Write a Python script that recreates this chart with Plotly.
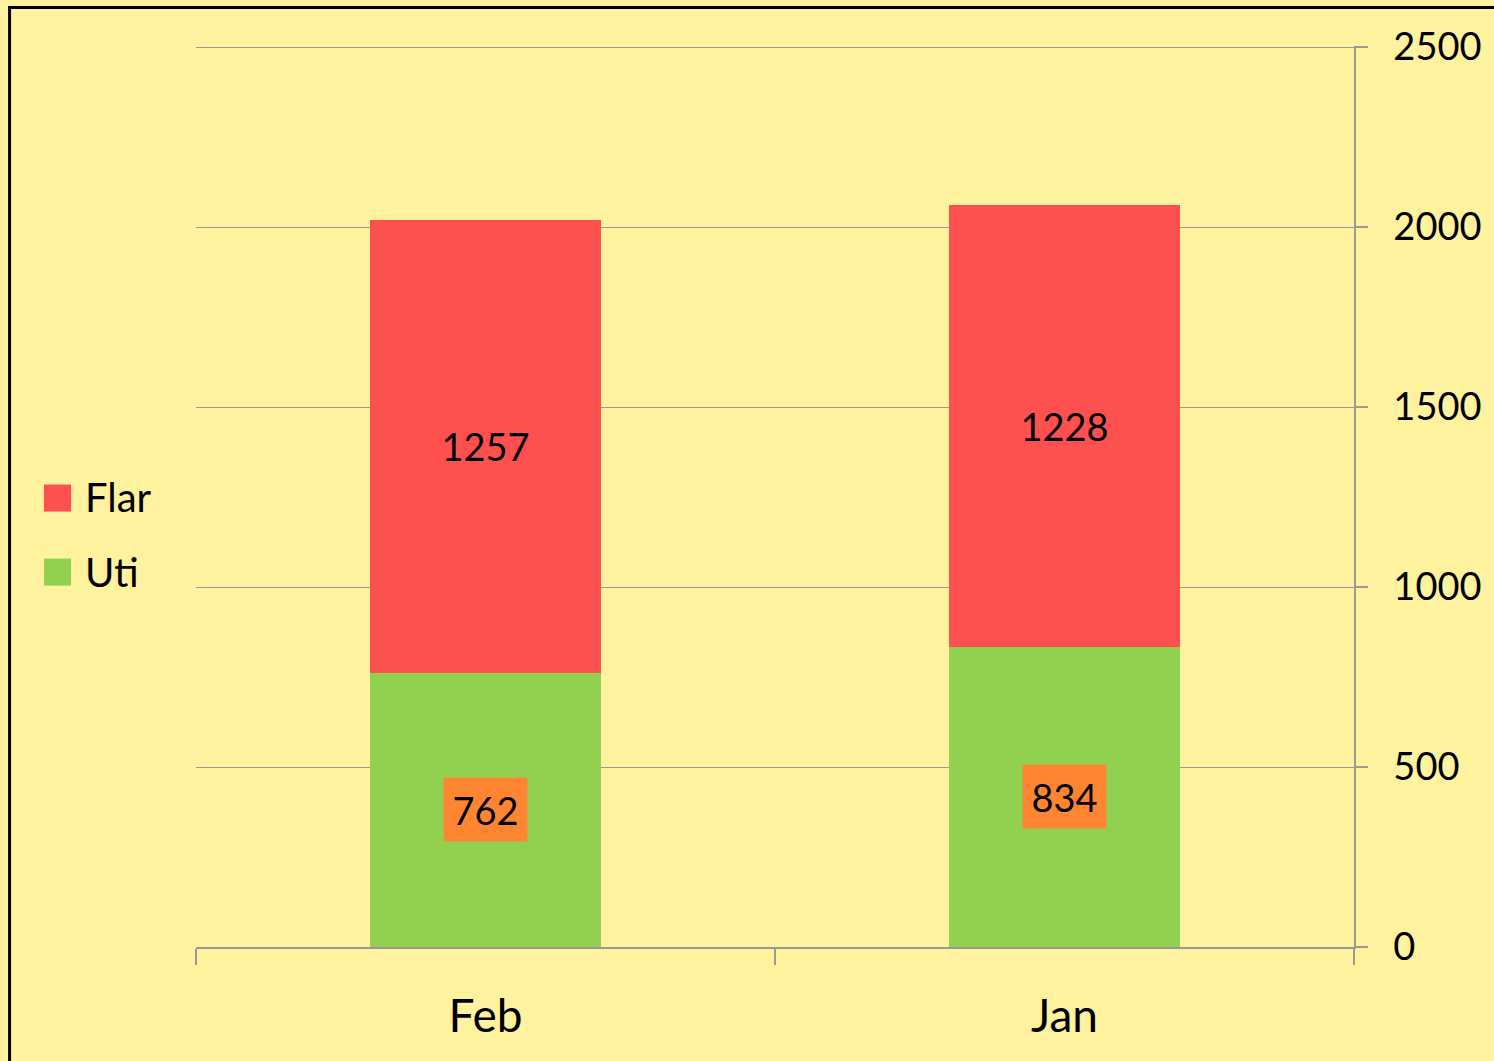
import plotly.graph_objects as go

categories = ["Feb", "Jan"]
uti = [762, 834]
flar = [1257, 1228]
y_ticks = [0, 500, 1000, 1500, 2000, 2500]
series_names = ["Flar", "Uti"]

BG = "#FFF29F"
RED = "#FF5050"
GREEN = "#92D050"
ORANGE = "#FF8533"
GRID = "#999999"
FONT = "Lato, 'Open Sans', sans-serif"

fig = go.Figure()
fig.add_trace(go.Bar(name="Uti", x=categories, y=uti, marker=dict(color=GREEN, line=dict(width=0)),
                     width=0.4, showlegend=False))
fig.add_trace(go.Bar(name="Flar", x=categories, y=flar, marker=dict(color=RED, line=dict(width=0)),
                     width=0.4, text=[str(v) for v in flar], textposition="inside",
                     insidetextanchor="middle", textangle=0, showlegend=False,
                     textfont=dict(color="black", size=38, family=FONT)))

for c, v in zip(categories, uti):
    fig.add_annotation(x=c, y=v / 2, text=str(v), showarrow=False, xref="x", yref="y",
                       bgcolor=ORANGE, width=81, height=61,
                       font=dict(color="black", size=38, family=FONT))

# custom legend (larger swatches than plotly's built-in legend allows)
legend_colors = [RED, GREEN]
legend_rows = [(0.4833, 0.5133, 0.5), (0.4011, 0.4311, 0.4167)]
for name, col, (y0, y1, yt) in zip(series_names, legend_colors, legend_rows):
    fig.add_shape(type="rect", xref="paper", yref="paper", x0=-0.1313, x1=-0.1079, y0=y0, y1=y1,
                  fillcolor=col, line=dict(width=0))
    fig.add_annotation(xref="paper", yref="paper", x=-0.0975, y=yt, xanchor="left", yanchor="middle",
                       text=name, showarrow=False, font=dict(size=40, family=FONT, color="black"))

fig.add_shape(type="rect", xref="paper", yref="paper", x0=-0.161, x1=1.13, y0=-0.14, y1=1.0428,
              line=dict(color="black", width=3), fillcolor="rgba(0,0,0,0)", layer="above")

fig.update_layout(
    width=1494, height=1061,
    barmode="stack",
    paper_bgcolor=BG, plot_bgcolor=BG,
    margin=dict(l=196, r=140, t=46, b=114, autoexpand=False),
    font=dict(family=FONT, color="black"),
    showlegend=False,
    xaxis=dict(showgrid=False, showline=True, linecolor=GRID, linewidth=1.5, automargin=False,
               ticks="outside", tickson="boundaries", ticklen=16, tickcolor=GRID, tickwidth=1.5,
               tickfont=dict(size=46, family=FONT), ticklabelstandoff=28),
    yaxis=dict(side="right", range=[0, 2503], tickvals=y_ticks, showgrid=True, gridcolor=GRID,
               gridwidth=1, showline=True, linecolor=GRID, linewidth=1.5, ticks="outside",
               ticklen=12, tickcolor=GRID, tickwidth=1.5, zeroline=False, automargin=False,
               tickfont=dict(size=38, family=FONT), ticklabelstandoff=18),
)

fig.write_html("out.html", config={"displayModeBar": False},
               post_script="document.body.style.margin='0';document.body.style.background='#FFF29F';")
